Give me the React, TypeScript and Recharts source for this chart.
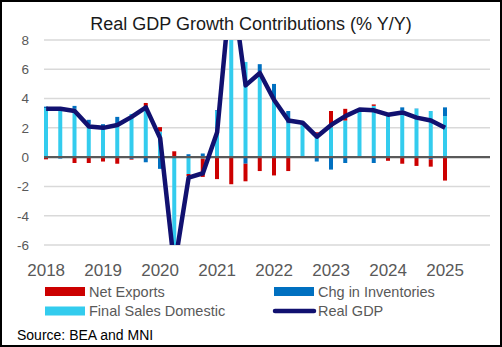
import React from 'react';
import { ComposedChart, Bar, Line, XAxis, YAxis, CartesianGrid, ReferenceLine } from 'recharts';

// quarterly, 2018 Q1 .. 2025 Q1
const quarters = [
  '2018Q1', '2018Q2', '2018Q3', '2018Q4',
  '2019Q1', '2019Q2', '2019Q3', '2019Q4',
  '2020Q1', '2020Q2', '2020Q3', '2020Q4',
  '2021Q1', '2021Q2', '2021Q3', '2021Q4',
  '2022Q1', '2022Q2', '2022Q3', '2022Q4',
  '2023Q1', '2023Q2', '2023Q3', '2023Q4',
  '2024Q1', '2024Q2', '2024Q3', '2024Q4',
  '2025Q1',
];

const finalSalesDomestic = [
  3.35, 3.35, 3.3, 2.25,
  2.1, 2.25, 2.95, 3.4,
  1.75, -7.3, -1.15, -0.1,
  3.15, 13.8, 6.5, 5.85,
  3.9, 2.3, 2.2, 1.6,
  2.05, 2.5, 3.2, 3.5,
  2.85, 3.2, 3.3, 3.15,
  2.8,
];

const chgInventories = [
  0.1, -0.1, 0.2, 0.3,
  0.15, 0.5, -0.12, -0.35,
  -0.8, -0.6, 0.2, 0.25,
  0.05, 0.2, -0.45, 0.5,
  1.1, 0.85, 0.05, -0.3,
  -0.85, -0.4, 0.02, -0.4,
  0.02, 0.2, 0.02, -0.15,
  0.6,
];

const netExports = [
  -0.15, 0.0, -0.4, -0.4,
  -0.3, -0.45, -0.05, 0.3,
  0.3, 0.4, -0.15, -1.25,
  -1.5, -1.85, -1.2, -0.95,
  -1.25, -0.95, 0.05, 0.1,
  1.1, 0.8, 0.03, 0.1,
  -0.25, -0.45, -0.6, -0.5,
  -1.6,
];

const realGdp = [
  3.3, 3.3, 3.15, 2.1,
  2.0, 2.2, 2.75, 3.4,
  1.3, -7.5, -1.4, -1.1,
  1.7, 12.1, 4.9, 5.75,
  3.9, 2.5, 2.35, 1.4,
  2.2, 2.8, 3.25, 3.2,
  2.9, 3.05, 2.7, 2.5,
  2.0,
];

const yearLabels = ['2018', '2019', '2020', '2021', '2022', '2023', '2024', '2025'];
const yTicks = [-6, -4, -2, 0, 2, 4, 6, 8];

const data = quarters.map((q, i) => ({
  idx: i,
  quarter: q,
  fsd: finalSalesDomestic[i],
  inv: chgInventories[i],
  nx: netExports[i],
  gdp: realGdp[i],
}));

const RED = '#CC0000';
const BLUE = '#0070C0';
const CYAN = '#33CCEE';
const NAVY = '#111170';
const GREY = '#595959';

export default function App() {
  return (
    <div style={{ position: 'absolute', left: 0, top: 0, width: 502, height: 347, background: '#fff', fontFamily: '"Liberation Sans", Arial, sans-serif' }}>
      <div style={{ position: 'absolute', left: 0, top: 0 }}>
        <ComposedChart width={502} height={290} data={data} stackOffset="sign"
          margin={{ top: 40, right: 12, bottom: 0, left: 0 }}>
          <CartesianGrid vertical={false} stroke="#D9D9D9" strokeWidth={1.5} />
          <XAxis type="number" dataKey="idx" domain={[-0.15, 31.15]} ticks={[0, 4, 8, 12, 16, 20, 24, 28]}
            tickFormatter={(v) => yearLabels[Math.round(v / 4)]} interval={0}
            axisLine={false} tickLine={false} height={45} tickMargin={13}
            tick={{ fill: GREY, fontSize: 17 }} />
          <YAxis domain={[-6, 8]} ticks={yTicks} allowDataOverflow width={44}
            axisLine={false} tickLine={false} tickMargin={9}
            tick={{ fill: GREY, fontSize: 13.5 }} />
          <Bar dataKey="fsd" stackId="s" fill={CYAN} barSize={4} isAnimationActive={false} />
          <Bar dataKey="inv" stackId="s" fill={BLUE} barSize={4} isAnimationActive={false} />
          <Bar dataKey="nx" stackId="s" fill={RED} barSize={4} isAnimationActive={false} />
          <ReferenceLine y={0} stroke={GREY} strokeWidth={2.2} />
          <Line dataKey="gdp" type="linear" stroke={NAVY} strokeWidth={4.5} dot={false}
            strokeLinejoin="round" isAnimationActive={false} />
        </ComposedChart>
      </div>
      <svg width={502} height={347} style={{ position: 'absolute', left: 0, top: 0, pointerEvents: 'none' }}>
        <text x={251} y={30} textAnchor="middle" fontSize={18} fill="#1a1a1a">Real GDP Growth Contributions (% Y/Y)</text>
        <rect x={45} y={287} width={40} height={9} fill={RED} />
        <text x={89} y={296.5} fontSize={14.5} fill={GREY}>Net Exports</text>
        <rect x={274} y={287} width={40} height={9} fill={BLUE} />
        <text x={318} y={296.5} fontSize={14.5} fill={GREY}>Chg in Inventories</text>
        <rect x={45} y={306.5} width={40} height={9} fill={CYAN} />
        <text x={89} y={315.5} fontSize={14.5} fill={GREY}>Final Sales Domestic</text>
        <line x1={275} y1={311} x2={314} y2={311} stroke={NAVY} strokeWidth={4.5} strokeLinecap="round" />
        <text x={318} y={315.5} fontSize={14.5} fill={GREY}>Real GDP</text>
        <text x={17} y={340} fontSize={14} fill="#000">Source: BEA and MNI</text>
      </svg>
      <div style={{ position: 'absolute', left: 0, top: 0, width: 502, height: 347, border: '2px solid #000', boxSizing: 'border-box', pointerEvents: 'none' }} />
    </div>
  );
}
